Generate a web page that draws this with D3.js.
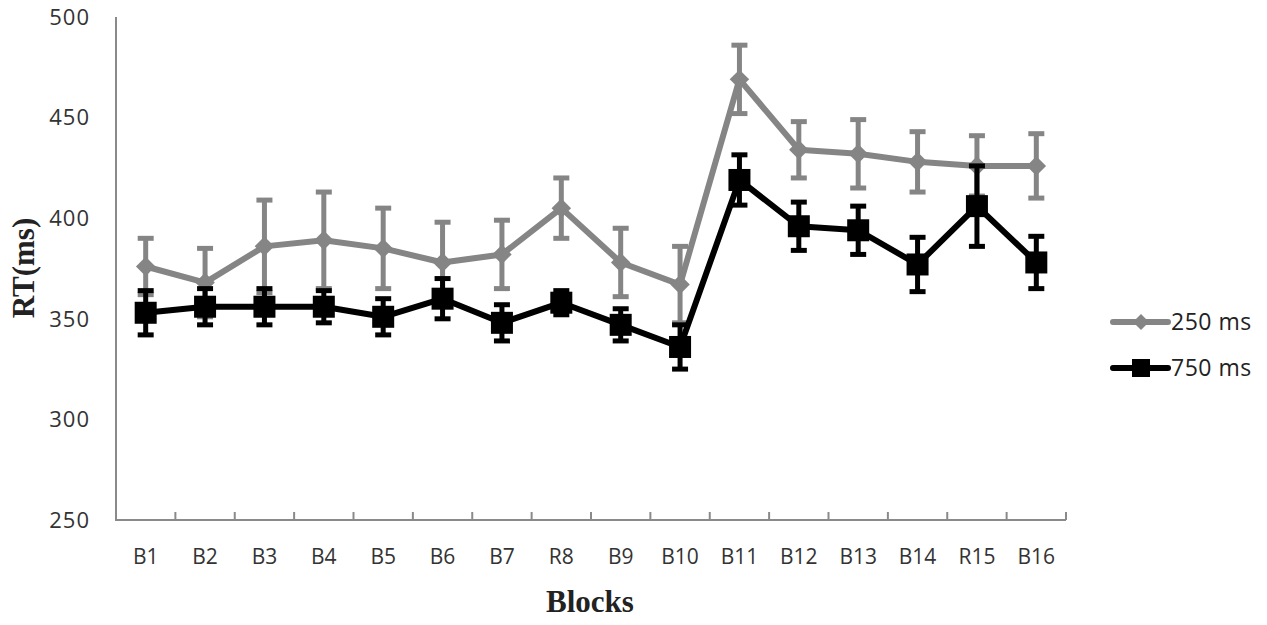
<!DOCTYPE html>
<html><head><meta charset="utf-8">
<script src="https://cdn.jsdelivr.net/npm/d3@7"></script>
<style>body{margin:0;background:#fff}svg{display:block}</style>
</head><body>
<svg id="c" width="1267" height="625"></svg>
<script>
const categories = ["B1","B2","B3","B4","B5","B6","B7","R8","B9","B10","B11","B12","B13","B14","R15","B16"];
const seriesNames = ["250 ms","750 ms"];
const values250 = [376,368,386,389,385,378,382,405,378,367,469,434,432,428,426,426];
const errors250 = [14,17,23,24,20,20,17,15,17,19,17,14,17,15,15,16];
const values750 = [353,356,356,356,351,360,348,358,347,336,419,396,394,377,406,378];
const errors750 = [11,9,9,8,9,10,9,6,8,11,12.5,12,12,13.5,20,13];
const yTicks = [250,300,350,400,450,500];

const svg = d3.select("#c");
const x = d3.scaleBand().domain(categories).range([116,1066]).padding(0);
const y = d3.scaleLinear().domain([250,500]).range([520,17]);
const cx = d => x(d) + x.bandwidth()/2;
const axisColor = "#8a8a8a";

svg.append("line").attr("x1",116).attr("x2",116).attr("y1",y(500)).attr("y2",y(250))
  .attr("stroke",axisColor).attr("stroke-width",2);
svg.append("line").attr("x1",115).attr("x2",1066).attr("y1",y(250)).attr("y2",y(250))
  .attr("stroke",axisColor).attr("stroke-width",2);
categories.forEach((c,i)=>{
  if(i===0) return;
  svg.append("line").attr("x1",x(c)).attr("x2",x(c)).attr("y1",y(250)).attr("y2",y(250)-8)
    .attr("stroke",axisColor).attr("stroke-width",2);
});
svg.append("line").attr("x1",1066).attr("x2",1066).attr("y1",y(250)).attr("y2",y(250)-8)
  .attr("stroke",axisColor).attr("stroke-width",2);

svg.selectAll(".yt").data(yTicks).enter().append("text")
  .attr("x",90).attr("y",d=>y(d)).attr("dy","0.35em").attr("text-anchor","end")
  .attr("font-family","'Open Sans', sans-serif").attr("font-size",22).attr("letter-spacing",1).attr("fill","#333")
  .text(d=>d);
svg.selectAll(".xt").data(categories).enter().append("text")
  .attr("x",d=>cx(d)).attr("y",557).attr("dy","0.35em").attr("text-anchor","middle")
  .attr("font-family","'Open Sans', sans-serif").attr("font-size",21).attr("fill","#333")
  .text(d=>d);
svg.append("text").attr("x",590).attr("y",612).attr("text-anchor","middle")
  .attr("font-family","'Liberation Serif', 'Times New Roman', serif").attr("font-weight","bold")
  .attr("font-size",31).attr("fill","#222").text("Blocks");
svg.append("text").attr("transform","translate(34,268) rotate(-90)").attr("text-anchor","middle")
  .attr("font-family","'Liberation Serif', 'Times New Roman', serif").attr("font-weight","bold")
  .attr("font-size",31).attr("fill","#222").text("RT(ms)");

function drawSeries(vals, errs, color, lw, marker){
  const g = svg.append("g");
  const line = d3.line().x((d,i)=>cx(categories[i])).y(d=>y(d));
  g.append("path").datum(vals).attr("d",line).attr("fill","none")
    .attr("stroke",color).attr("stroke-width",lw).attr("stroke-linejoin","round");
  vals.forEach((v,i)=>{
    const xx = cx(categories[i]);
    const t = y(v+errs[i]), b = y(v-errs[i]);
    g.append("line").attr("x1",xx).attr("x2",xx).attr("y1",t).attr("y2",b)
      .attr("stroke",color).attr("stroke-width",5);
    [t,b].forEach(yy=>g.append("line").attr("x1",xx-8).attr("x2",xx+8).attr("y1",yy).attr("y2",yy)
      .attr("stroke",color).attr("stroke-width",5));
  });
  vals.forEach((v,i)=>{
    const xx = cx(categories[i]), yy = y(v);
    if(marker==="diamond"){
      g.append("path").attr("d",d3.symbol(d3.symbolSquare,190)()).attr("transform",`translate(${xx},${yy}) rotate(45)`)
        .attr("fill",color);
    } else {
      g.append("rect").attr("x",xx-11).attr("y",yy-11).attr("width",22).attr("height",22).attr("fill",color);
    }
  });
}
drawSeries(values250, errors250, "#858585", 6, "diamond");
drawSeries(values750, errors750, "#000", 6, "square");

const leg = [{n:seriesNames[0],c:"#858585",m:"diamond",lw:6,yy:322},{n:seriesNames[1],c:"#000",m:"square",lw:6,yy:368}];
leg.forEach(l=>{
  svg.append("line").attr("x1",1113).attr("x2",1168).attr("y1",l.yy).attr("y2",l.yy)
    .attr("stroke",l.c).attr("stroke-width",l.lw).attr("stroke-linecap","round");
  if(l.m==="diamond"){
    svg.append("path").attr("d",d3.symbol(d3.symbolSquare,130)()).attr("transform",`translate(1141,${l.yy}) rotate(45)`).attr("fill",l.c);
  } else {
    svg.append("rect").attr("x",1132).attr("y",l.yy-9).attr("width",18).attr("height",18).attr("fill",l.c);
  }
  svg.append("text").attr("x",1171).attr("y",l.yy).attr("dy","0.35em")
    .attr("font-family","'Open Sans', sans-serif").attr("font-size",23).attr("letter-spacing",0.5).attr("fill","#222").text(l.n);
});
</script>
</body></html>
